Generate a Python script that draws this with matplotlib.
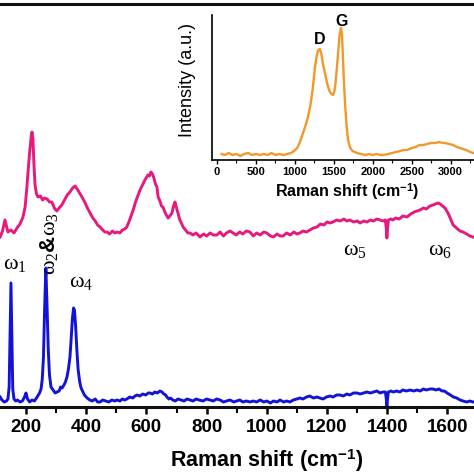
import matplotlib
matplotlib.use("Agg")
import matplotlib.pyplot as plt
from matplotlib.ticker import MultipleLocator

plt.rcParams['font.family'] = ['Liberation Sans', 'DejaVu Sans']
plt.rcParams['mathtext.fontset'] = 'custom'
plt.rcParams['mathtext.rm'] = 'Liberation Serif'
plt.rcParams['mathtext.it'] = 'Liberation Serif'
plt.rcParams['mathtext.bf'] = 'Liberation Sans:bold'

# ---- data ----
pink_x = [114,122,130,136,140,150,160,170,180,190,197,203,208,213,218,220,223,226,230,235,240,248,255,262,270,278,286,294,302,310,319,328,337,346,355,363,370,378,386,395,404,413,422,430,438,446,455,462,469,478,487,495,503,512,520,528,535,543,550,556,563,570,579,587,595,605,610,615,620,625,630,635,639,645,650,655,660,666,672,678,685,690,695,700,705,710,716,722,730,738,745,755,765,778,790,800,812,822,834,845,856,866,878,888,898,910,920,932,944,955,966,978,990,1000,1012,1022,1034,1044,1054,1066,1078,1090,1100,1110,1120,1132,1143,1155,1167,1178,1190,1200,1210,1220,1232,1244,1256,1266,1276,1288,1300,1310,1322,1333,1344,1355,1366,1376,1386,1394,1397,1399,1401,1404,1412,1419,1428,1440,1452,1466,1478,1490,1500,1509,1520,1530,1542,1552,1560,1569,1576,1584,1592,1600,1608,1619,1630,1642,1652,1664,1675,1685,1695]
pink_y = [170,176,187,180,175,177,174,179,183,190,200,220,240,258,272,275,268,245,222,213,210,211,207,209,208,205,205,199,196,199,202,207,212,215,219,221,218,214,210,205,199,194,189,186,182,180,177,175,175,173,176,174,175,174,177,178,180,186,192,197,204,210,217,222,227,232,231,235,233,229,223,220,210,206,201,200,196,192,189,191,194,201,205,199,194,188,184,180,177,174,174,172,174,170,173,171,174,172,172,175,171,174,176,174,172,175,173,176,175,171,174,172,175,174,171,170,173,171,171,174,172,175,173,174,176,175,177,179,180,183,182,185,184,185,187,186,188,186,187,185,186,184,186,185,187,186,188,187,186,187,178,169,178,187,188,187,189,188,191,190,193,195,196,197,199,198,201,202,203,204,203,201,199,195,190,182,179,176,175,173,171,170,169]

blue_x = [114,120,128,135,140,144,147,150,153,156,160,166,172,180,188,195,200,205,212,220,228,237,245,250,254,258,262,266,270,274,278,283,290,297,303,310,315,320,326,331,336,341,346,350,354,358,361,365,369,373,378,382,386,394,403,412,420,430,438,446,455,465,475,485,495,502,512,520,528,535,545,555,562,569,578,588,598,606,612,620,628,636,645,652,658,664,668,675,680,688,696,705,715,725,735,745,755,765,775,788,800,811,822,833,845,856,866,878,890,900,910,921,932,944,955,966,978,990,1000,1012,1022,1034,1044,1056,1066,1077,1088,1100,1110,1120,1132,1143,1155,1166,1176,1187,1198,1210,1220,1232,1243,1254,1266,1276,1288,1300,1310,1322,1333,1344,1355,1366,1376,1386,1394,1397,1399,1401,1404,1412,1420,1431,1442,1452,1464,1476,1488,1499,1510,1520,1530,1542,1552,1562,1572,1582,1590,1599,1610,1620,1631,1642,1652,1664,1675,1685,1695]
blue_y = [10,7,5,6,8,20,70,124,70,18,8,6,7,5,6,10,14,8,5,7,6,10,14,18,28,50,100,139,100,57,32,20,17,14,15,16,20,19,22,25,30,38,50,68,88,99,97,80,57,38,26,20,17,12,9,7,6,8,5,5,7,6,5,7,6,7,6,8,7,8,10,9,11,12,11,13,12,14,14,13,15,14,16,15,13,12,10,8,9,7,6,8,7,6,8,7,6,8,7,6,8,7,6,8,7,5,6,7,5,6,7,5,6,5,6,5,7,5,6,4,6,5,7,5,6,5,7,8,9,8,10,11,9,10,9,8,10,11,10,12,12,11,13,12,14,14,13,14,15,14,15,16,14,15,15,8,0,8,15,16,15,16,15,17,16,17,16,17,16,18,17,18,18,17,18,16,16,14,12,10,9,7,6,5,6,5,5]

orange_x = [60,100,150,200,250,300,350,400,450,500,550,600,650,700,750,800,850,900,950,990,1030,1065,1100,1135,1168,1200,1230,1258,1280,1300,1322,1340,1360,1386,1410,1430,1450,1470,1489,1505,1520,1540,1560,1575,1592,1605,1618,1630,1645,1660,1682,1710,1740,1797,1850,1900,1950,2000,2050,2100,2131,2200,2250,2300,2350,2400,2439,2500,2550,2600,2650,2696,2750,2800,2850,2900,2927,2980,3030,3080,3119,3160,3200,3250,3286,3300]
orange_y = [6,5,7,5,6,4,6,7,5,6,5,6,5,7,5,6,5,6,7,9,12,18,26,34,43,55,72,93,104,110,111,106,96,87,78,72,68,66,65,68,76,93,112,126,132,124,100,77,55,38,20,12,9,7,6,5,6,5,6,5,5,6,7,8,9,10,10,12,13,15,15,16,17,17,18,17,17,16,15,13,12,11,10,8,7,7]

main_ticks = [200, 400, 600, 800, 1000, 1200, 1400, 1600]
inset_ticks = [0, 500, 1000, 1500, 2000, 2500, 3000]

pink_c = '#E8197C'
blue_c = '#1212D8'
orange_c = '#F0982A'

W = 474
fig = plt.figure(figsize=(4.74, 4.74), dpi=100)

TOP = 4
RIGHT = 474
BOT = 407
# main axes (left and right parts of the original figure are cropped away)
ax = fig.add_axes([0.0, (W - BOT) / W, RIGHT / W, (BOT - TOP) / W])
ax.plot(pink_x, pink_y, color=pink_c, lw=2.1)
ax.plot(blue_x, blue_y, color=blue_c, lw=2.1)
ax.set_xlim(113.6, 200 + (RIGHT - 26) / 0.301)
ax.set_ylim(0, BOT - TOP)
ax.set_xticks(main_ticks)
ax.xaxis.set_minor_locator(MultipleLocator(100))
ax.set_yticks([])
ax.spines['left'].set_visible(False)
ax.spines['right'].set_visible(False)
for s in ['top', 'bottom']:
    ax.spines[s].set_linewidth(2.2)
    ax.spines[s].set_color('#111111')
ax.tick_params(axis='x', which='major', direction='out', length=5, width=1.8,
               labelsize=13.5, pad=4)
ax.tick_params(axis='x', which='minor', direction='out', length=4, width=1.5)
for lab in ax.get_xticklabels():
    lab.set_fontweight('bold')
ax.set_xlabel('Raman shift (cm$^{\\mathbf{-1}}$)', fontsize=15.5, fontweight='bold')
ax.xaxis.set_label_coords(267 / RIGHT, -(447 - BOT) / (BOT - TOP))
ax.xaxis.label.set_va('top')

# peak labels
ax.text(122, 144, r'$\omega_1$', fontsize=16, ha='left', va='center')
ax.text(344, 125, r'$\omega_4$', fontsize=16, ha='left', va='center')
ax.text(1254, 158, r'$\omega_5$', fontsize=16, ha='left', va='center')
ax.text(1537, 158, r'$\omega_6$', fontsize=16, ha='left', va='center')
ax.text(276, 163, r'$\omega_2$&$\omega_3$', fontsize=16, rotation=90,
        ha='center', va='center', fontweight='bold')

# inset
ins = fig.add_axes([212 / W, (W - 160) / W, (W - 212) / W, (160 - 15) / W])
ins.set_facecolor('none')
ins.plot(orange_x, orange_y, color=orange_c, lw=1.7)
ins.set_xlim(-64, 3299)
ins.set_ylim(0, 145)
ins.set_xticks(inset_ticks)
ins.xaxis.set_minor_locator(MultipleLocator(250))
ins.set_yticks([])
ins.spines['top'].set_visible(False)
ins.spines['right'].set_visible(False)
ins.spines['left'].set_linewidth(1.2)
ins.spines['bottom'].set_linewidth(1.2)
ins.tick_params(axis='x', which='major', direction='out', length=3, width=1.0,
                labelsize=8, pad=2)
ins.tick_params(axis='x', which='minor', direction='out', length=2, width=0.8)
for lab in ins.get_xticklabels():
    lab.set_fontweight('bold')
ins.set_xlabel('Raman shift (cm$^{\\mathbf{-1}}$)', fontsize=11.5, fontweight='bold')
ins.xaxis.set_label_coords((347 - 212) / (W - 212), -(181 - 160) / 145)
ins.xaxis.label.set_va('top')
ins.set_ylabel('Intensity (a.u.)', fontsize=13)
ins.yaxis.set_label_coords(-(212 - 188) / (W - 212), (160 - 80) / 145)
ins.yaxis.label.set_va('center')
ins.text(1322, 120, 'D', fontsize=11.5, fontweight='bold', ha='center', va='center')
ins.text(1604, 138, 'G', fontsize=11.5, fontweight='bold', ha='center', va='center')

fig.savefig('out.png', dpi=100)
